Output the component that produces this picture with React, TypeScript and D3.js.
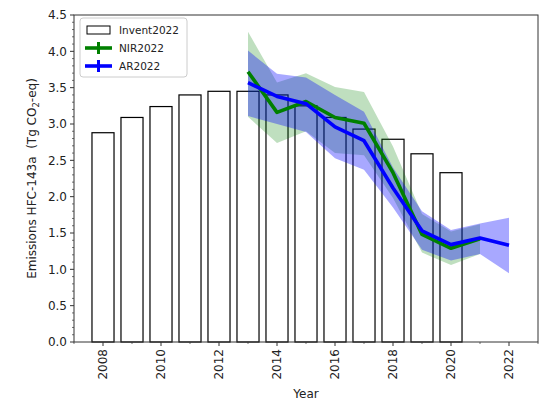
import React from "react";
import * as d3 from "d3";

const barYears = [2008, 2009, 2010, 2011, 2012, 2013, 2014, 2015, 2016, 2017, 2018, 2019, 2020];
const invent = [2.88, 3.09, 3.24, 3.40, 3.45, 3.45, 3.40, 3.25, 3.09, 2.93, 2.79, 2.59, 2.33];

const nirYears = [2013, 2014, 2015, 2016, 2017, 2018, 2019, 2020, 2021];
const nir = [3.72, 3.16, 3.31, 3.09, 3.01, 2.33, 1.48, 1.29, 1.42];
const nirHigh = [4.27, 3.57, 3.70, 3.51, 3.44, 2.69, 1.76, 1.52, 1.62];
const nirLow = [3.10, 2.74, 2.90, 2.60, 2.57, 1.98, 1.23, 1.06, 1.21];

const arYears = [2013, 2014, 2015, 2016, 2017, 2018, 2019, 2020, 2021, 2022];
const ar = [3.57, 3.38, 3.28, 2.96, 2.77, 2.12, 1.53, 1.34, 1.43, 1.33];
const arHigh = [4.01, 3.69, 3.64, 3.40, 3.17, 2.40, 1.80, 1.54, 1.63, 1.71];
const arLow = [3.11, 3.00, 2.89, 2.53, 2.37, 1.85, 1.27, 1.12, 1.21, 0.945];

const xTicks = [2008, 2010, 2012, 2014, 2016, 2018, 2020, 2022];
const yTicks = [0, 0.5, 1.0, 1.5, 2.0, 2.5, 3.0, 3.5, 4.0, 4.5];

const W = 545, H = 402;
const L = 74, R = 538, T = 15, B = 342;
const FONT = "DejaVu Sans, sans-serif";

export default function App() {
  const x = d3.scaleLinear().domain([2007, 2023]).range([L, R]);
  const y = d3.scaleLinear().domain([0, 4.5]).range([B, T]);
  const bw = x(2007.76) - x(2007);

  const area = (yrs: number[], lo: number[], hi: number[]) =>
    d3.area<number>().x((_, i) => x(yrs[i])).y0((_, i) => y(lo[i])).y1((_, i) => y(hi[i]))(yrs) || "";
  const line = (yrs: number[], v: number[]) =>
    d3.line<number>().x((_, i) => x(yrs[i])).y((_, i) => y(v[i]))(yrs) || "";

  const xMinor = d3.range(2007, 2024, 1).filter((v) => !xTicks.includes(v));
  const yMinor = d3.range(0, 46, 1).map((v) => v / 10).filter((v) => Math.round(v * 10) % 5 !== 0);

  return (
    <svg width={W} height={H} style={{ position: "absolute", left: 0, top: 0, background: "#fff" }} fontFamily={FONT}>
      {/* bars */}
      {barYears.map((yr, i) => (
        <rect key={yr} x={x(yr) - bw / 2} y={y(invent[i])} width={bw} height={B - y(invent[i])}
          fill="#fff" stroke="#000" strokeWidth={1.2} />
      ))}
      {/* bands */}
      <path d={area(nirYears, nirLow, nirHigh)} fill="green" fillOpacity={0.25} />
      <path d={area(arYears, arLow, arHigh)} fill="blue" fillOpacity={0.34} />
      {/* lines */}
      <path d={line(nirYears, nir)} fill="none" stroke="green" strokeWidth={3.6} strokeLinejoin="round" />
      <path d={line(arYears, ar)} fill="none" stroke="blue" strokeWidth={3.6} strokeLinejoin="round" />

      {/* frame */}
      <rect x={L} y={T} width={R - L} height={B - T} fill="none" stroke="#333" strokeWidth={1} />

      {/* y ticks */}
      {yTicks.map((v) => (
        <g key={v}>
          <line x1={L - 4} x2={L} y1={y(v)} y2={y(v)} stroke="#333" />
          <text x={L - 7} y={y(v)} dy="0.35em" textAnchor="end" fontSize={12} fill="#222">{v.toFixed(1)}</text>
        </g>
      ))}
      {yMinor.map((v) => (
        <line key={v} x1={L - 2} x2={L} y1={y(v)} y2={y(v)} stroke="#333" strokeWidth={0.7} />
      ))}
      {/* x ticks */}
      {xTicks.map((v) => (
        <g key={v}>
          <line x1={x(v)} x2={x(v)} y1={B} y2={B + 4} stroke="#333" />
          <text transform={`translate(${x(v)},${B + 7}) rotate(-90)`} dy="0.35em" textAnchor="end" fontSize={12} fill="#222">{v}</text>
        </g>
      ))}
      {xMinor.map((v) => (
        <line key={v} x1={x(v)} x2={x(v)} y1={B} y2={B + 2} stroke="#333" strokeWidth={0.7} />
      ))}

      {/* axis labels */}
      <text x={(L + R) / 2} y={398} textAnchor="middle" fontSize={12} fill="#222">Year</text>
      <text transform={`translate(36,${(T + B) / 2}) rotate(-90)`} textAnchor="middle" fontSize={12} fill="#222"
        style={{ whiteSpace: "pre" }}>
        {"Emissions HFC-143a  (Tg CO"}<tspan fontSize={8.5} dy={3}>2</tspan><tspan dy={-3}>-eq)</tspan>
      </text>

      {/* legend */}
      <g>
        <rect x={80} y={18} width={107} height={59} rx={3} fill="#fff" fillOpacity={0.8} stroke="#ccc" />
        <rect x={87} y={26} width={23} height={8} fill="#fff" stroke="#000" strokeWidth={1} />
        <text x={119} y={30} dy="0.35em" fontSize={10.5} fill="#222">Invent2022</text>
        <line x1={85} x2={112} y1={48} y2={48} stroke="green" strokeWidth={3.6} />
        <line x1={98.5} x2={98.5} y1={42} y2={54} stroke="green" strokeWidth={3} />
        <text x={119} y={48} dy="0.35em" fontSize={10.5} fill="#222">NIR2022</text>
        <line x1={85} x2={112} y1={66} y2={66} stroke="blue" strokeWidth={3.6} />
        <line x1={98.5} x2={98.5} y1={60} y2={72} stroke="blue" strokeWidth={3} />
        <text x={119} y={66} dy="0.35em" fontSize={10.5} fill="#222">AR2022</text>
      </g>
    </svg>
  );
}
